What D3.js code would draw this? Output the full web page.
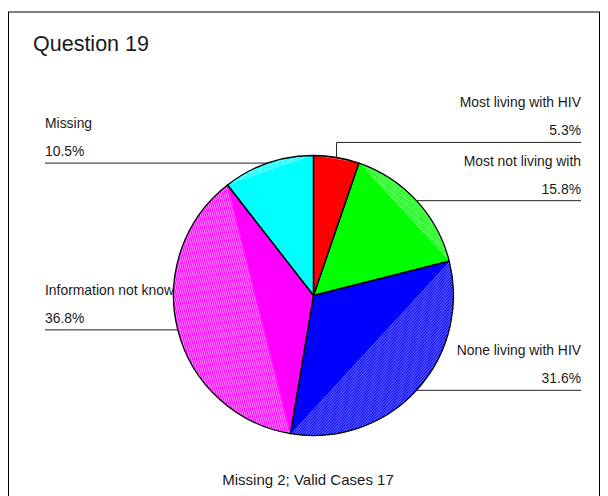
<!DOCTYPE html>
<html><head><meta charset="utf-8">
<script src="https://cdn.jsdelivr.net/npm/d3@7"></script>
<style>
body{margin:0;background:#fff}
svg{display:block}
text{font-family:"Liberation Sans",Arial,sans-serif;fill:#1a1a1a}
</style>
</head><body><svg id="chart" width="608" height="496"></svg>
<script>
// Responses to question 19 (counts out of 19 cases)
const categories = ["Most living with HIV", "Most not living with", "None living with HIV", "Information not known", "Missing"];
const counts = [1, 3, 6, 7, 2];
const colors = ["#ff0000", "#00ff00", "#0000ff", "#ff00ff", "#00ffff"];
const highlights = ["#ff7070", "#80ff80", "#6a6aff", "#ff80ff", "#80ffff"];
const title = "Question 19";
const footnote = "Missing 2; Valid Cases 17";

const svg = d3.select("#chart");
const cx = 313.5, cy = 295.5, r = 140;
const total = d3.sum(counts);
const fmt = d3.format(".1%");

// outer frame
svg.append("rect").attr("x", 8.5).attr("y", 12).attr("width", 591).attr("height", 500)
  .attr("fill", "none").attr("stroke", "#000").attr("stroke-width", 1);

svg.append("text").attr("x", 33).attr("y", 51).attr("font-size", 21.5).text(title);
svg.append("text").attr("x", 308).attr("y", 485).attr("text-anchor", "middle")
  .attr("font-size", 15).text(footnote);

const pie = d3.pie().sort(null).value(d => d)(counts);
const arc = d3.arc().innerRadius(0).outerRadius(r);
const rim = a => [cx + r * Math.sin(a), cy - r * Math.cos(a)];

const defs = svg.append("defs");

// labels and leader lines (drawn beneath the pie)
const labelLayer = svg.append("g");
pie.forEach((d, i) => {
  const mid = (d.startAngle + d.endAngle) / 2;
  const [px, py] = rim(mid);
  const right = mid < Math.PI;
  const nearTop = Math.abs(Math.sin(mid)) < 0.3;
  const lineY = nearTop ? py - 15 : py;
  const edgeX = right ? 581 : 45;
  if (nearTop) {
    labelLayer.append("path").attr("d", `M${px},${py}V${lineY}H${edgeX}`)
      .attr("fill", "none").attr("stroke", "#222").attr("stroke-width", 1);
  } else {
    labelLayer.append("line").attr("x1", px).attr("y1", lineY).attr("x2", edgeX).attr("y2", lineY)
      .attr("stroke", "#222").attr("stroke-width", 1);
  }
  const anchor = right ? "end" : "start";
  labelLayer.append("text").attr("x", edgeX).attr("y", lineY - 35).attr("text-anchor", anchor)
    .attr("font-size", 13.9).text(categories[i]);
  labelLayer.append("text").attr("x", edgeX).attr("y", lineY - 7).attr("text-anchor", anchor)
    .attr("font-size", 13.9).text(fmt(d.value / total));
});

// slices: flat wedge plus a lightly striped segment between chord and arc
const g = svg.append("g").attr("transform", `translate(${cx},${cy})`);
const seg = svg.append("g");
pie.forEach((d, i) => {
  const [x1, y1] = rim(d.startAngle);
  const [x2, y2] = rim(d.endAngle);
  const phi = Math.atan2(y2 - y1, x2 - x1) * 180 / Math.PI;
  const p = defs.append("pattern").attr("id", "stripe" + i)
    .attr("patternUnits", "userSpaceOnUse").attr("width", 2).attr("height", 2)
    .attr("patternTransform", `rotate(${phi - 90})`);
  p.append("rect").attr("width", 2).attr("height", 2).attr("fill", colors[i]);
  p.append("rect").attr("width", 1).attr("height", 2).attr("fill", highlights[i]);

  g.append("path").attr("d", arc(d)).attr("fill", colors[i]);
  const large = d.endAngle - d.startAngle > Math.PI ? 1 : 0;
  seg.append("path").attr("d", `M${x1},${y1}A${r},${r} 0 ${large} 1 ${x2},${y2}Z`)
    .attr("fill", `url(#stripe${i})`);
});
const outline = svg.append("g").attr("transform", `translate(${cx},${cy})`);
pie.forEach(d => {
  outline.append("path").attr("d", arc(d)).attr("fill", "none")
    .attr("stroke", "#000").attr("stroke-width", 1.3).attr("stroke-linejoin", "round");
});
</script>
</body></html>
